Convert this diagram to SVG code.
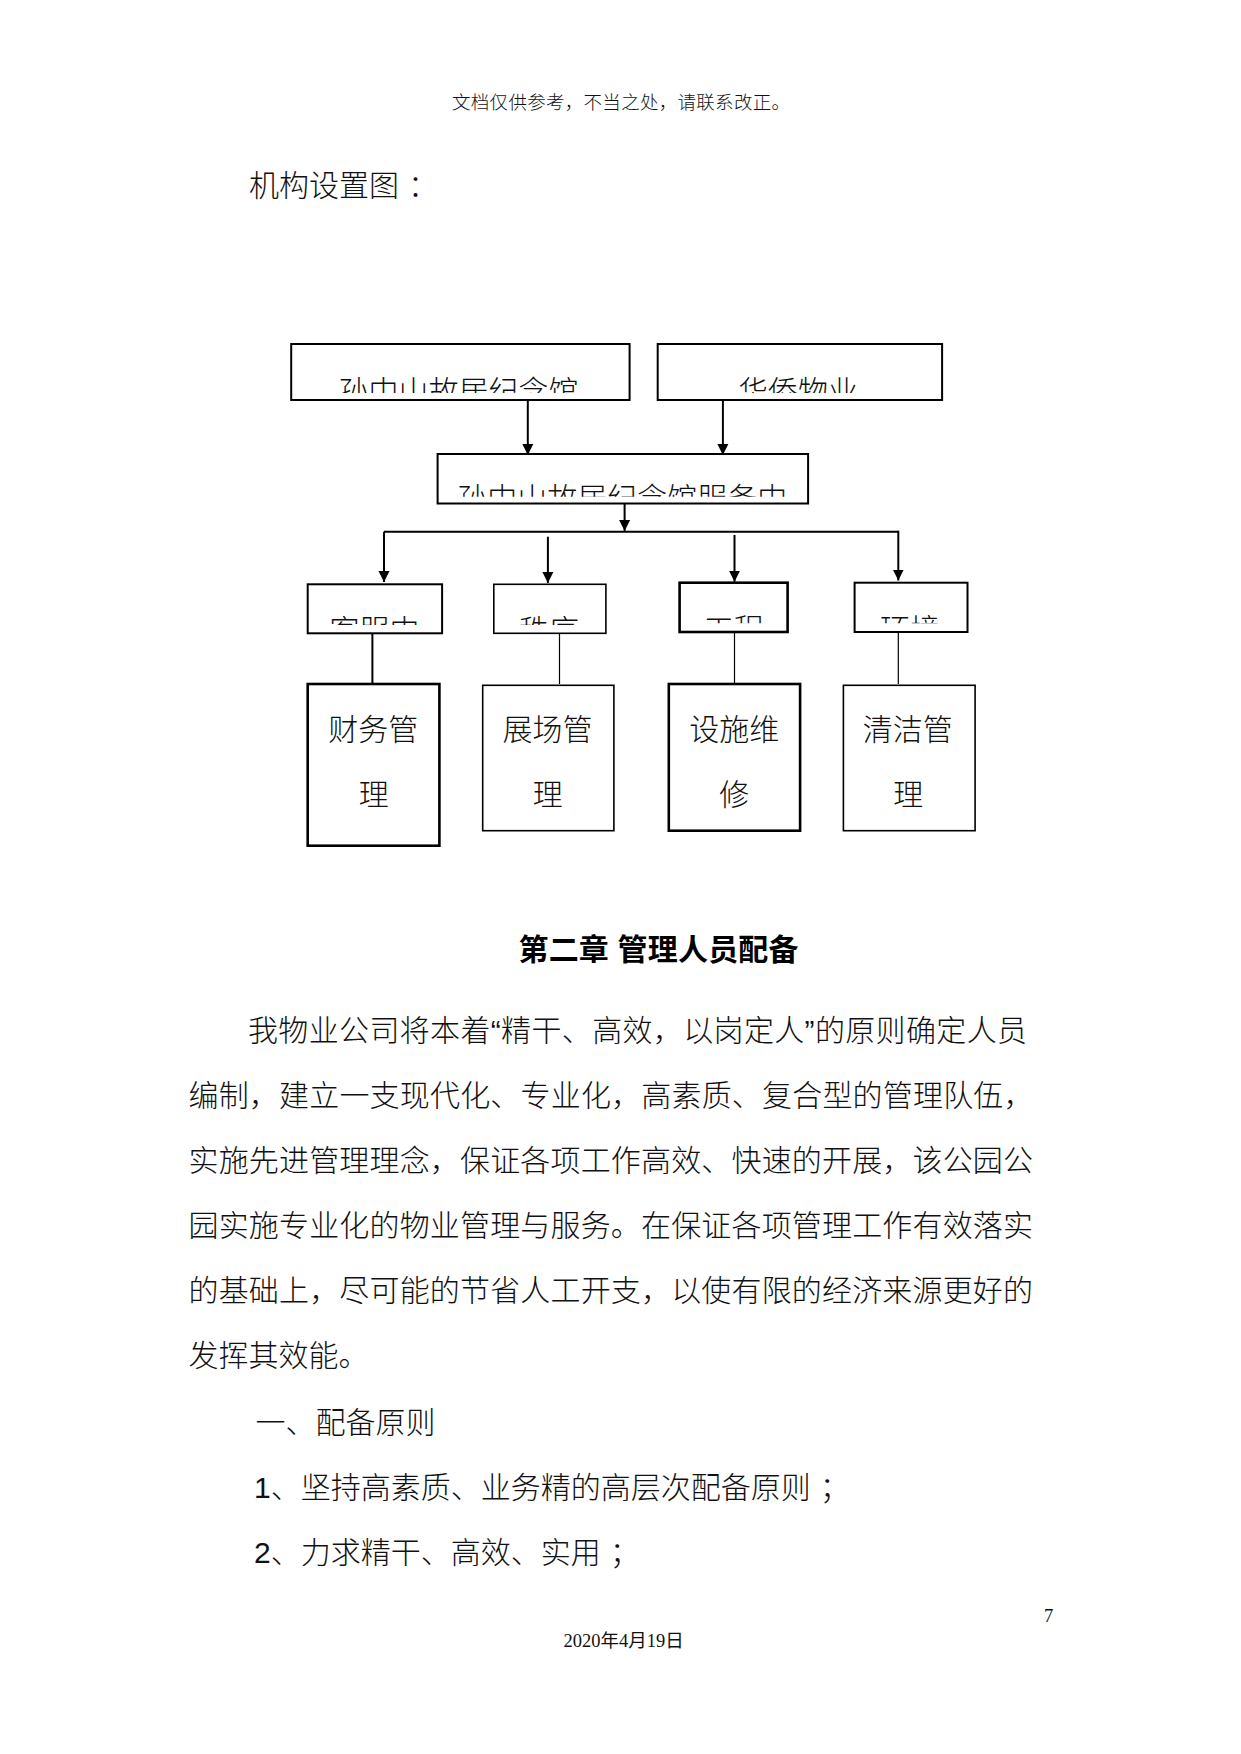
<svg xmlns="http://www.w3.org/2000/svg" width="1241" height="1754" viewBox="0 0 1241 1754">
<style>
.t{font-family:"Liberation Sans","Noto Sans CJK SC",sans-serif;font-size:30px;font-weight:300;fill:#111}
.c{text-anchor:middle}
.b{font-weight:700;fill:#000}
.s{font-family:"Liberation Serif","Noto Sans CJK SC",serif;font-size:18.5px;fill:#111}
.box{fill:#fff;stroke:#000;stroke-width:2}
.bk{stroke-width:2.6}
.bn{stroke-width:1.6}
.ln{stroke:#000;stroke-width:2;fill:none}
.lt{stroke-width:1.2}
</style>
<defs>
<marker id="ah" markerUnits="userSpaceOnUse" markerWidth="12" markerHeight="12" viewBox="0 0 12 12" refX="11" refY="6" orient="auto">
<path d="M0,0.5 L11,6 L0,11.5 z" fill="#000"/>
</marker>
<clipPath id="cp1" clipPathUnits="userSpaceOnUse"><rect x="292" y="345" width="337" height="48"/></clipPath>
<clipPath id="cp2" clipPathUnits="userSpaceOnUse"><rect x="658" y="345" width="283" height="48"/></clipPath>
<clipPath id="cp3" clipPathUnits="userSpaceOnUse"><rect x="438" y="455" width="369" height="41.7"/></clipPath>
<clipPath id="cpA" clipPathUnits="userSpaceOnUse"><rect x="308.7" y="585" width="132.4" height="40"/></clipPath>
<clipPath id="cpB" clipPathUnits="userSpaceOnUse"><rect x="494.8" y="585" width="110" height="40"/></clipPath>
<clipPath id="cpC" clipPathUnits="userSpaceOnUse"><rect x="680.6" y="584" width="106" height="39.3"/></clipPath>
<clipPath id="cpD" clipPathUnits="userSpaceOnUse"><rect x="855.6" y="584" width="111" height="39.3"/></clipPath>
</defs>

<g id="page-text">
<text class="s" x="452" y="109" style="font-family:'Noto Sans CJK SC',sans-serif;font-weight:300" textLength="338" lengthAdjust="spacing">文档仅供参考，不当之处，请联系改正。</text>
<text class="t" x="249" y="196">机构设置图<tspan dx="9">：</tspan></text>
</g>

<g id="connectors">
<line class="ln" x1="527.8" y1="401" x2="527.8" y2="455" marker-end="url(#ah)"/>
<line class="ln" x1="722.9" y1="401" x2="722.9" y2="455" marker-end="url(#ah)"/>
<line class="ln" x1="624.6" y1="504" x2="624.6" y2="531" marker-end="url(#ah)"/>
<line class="ln" x1="384" y1="531.7" x2="898.3" y2="531.7"/>
<line class="ln" x1="384" y1="531.7" x2="384" y2="582" marker-end="url(#ah)"/>
<line class="ln" x1="547.9" y1="536.7" x2="547.9" y2="583" marker-end="url(#ah)"/>
<line class="ln" x1="734.5" y1="535" x2="734.5" y2="581.7" marker-end="url(#ah)"/>
<line class="ln" x1="898.3" y1="530.7" x2="898.3" y2="580.5" marker-end="url(#ah)"/>
<line class="ln" x1="372.4" y1="634" x2="372.4" y2="683"/>
<line class="ln lt" x1="559.5" y1="634" x2="559.5" y2="684"/>
<line class="ln lt" x1="734.5" y1="633" x2="734.5" y2="683"/>
<line class="ln lt" x1="898.3" y1="633" x2="898.3" y2="684"/>
</g>

<g id="n-sun">
<rect class="box" x="291.2" y="344" width="338.4" height="56"/>
<text class="t c" x="458.6" y="402" clip-path="url(#cp1)">孙中山故居纪念馆</text>
</g>
<g id="n-huaqiao">
<rect class="box" x="657.7" y="344" width="284.4" height="56"/>
<text class="t c" x="798" y="402" clip-path="url(#cp2)">华侨物业</text>
</g>
<g id="n-service">
<rect class="box" x="437.6" y="454" width="370.5" height="49.5"/>
<text class="t c" x="622.2" y="509" clip-path="url(#cp3)">孙中山故居纪念馆服务中</text>
</g>
<g id="n-kefu">
<rect class="box" x="307.7" y="584.3" width="134.4" height="49"/>
<text class="t c" x="374.4" y="641" clip-path="url(#cpA)">客服中</text>
</g>
<g id="n-zhixu">
<rect class="box bn" x="493.8" y="584.3" width="112.1" height="49"/>
<text class="t c" x="549" y="641" clip-path="url(#cpB)">秩序</text>
</g>
<g id="n-gongcheng">
<rect class="box bk" x="679.6" y="582.7" width="108" height="49.3"/>
<text class="t c" x="733.8" y="640" clip-path="url(#cpC)">工程</text>
</g>
<g id="n-huanjing">
<rect class="box" x="854.6" y="582.7" width="112.9" height="49.3"/>
<text class="t c" x="910.1" y="640" clip-path="url(#cpD)">环境</text>
</g>

<g id="n-caiwu">
<rect class="box bk" x="307.7" y="684" width="131.7" height="161.7"/>
<text class="t c" x="373.3" y="739.7">财务管</text>
<text class="t c" x="373.8" y="804.7">理</text>
</g>
<g id="n-zhanchang">
<rect class="box bn" x="482.7" y="685.3" width="131.2" height="145.4"/>
<text class="t c" x="547.4" y="739.7">展场管</text>
<text class="t c" x="547.8" y="804.7">理</text>
</g>
<g id="n-sheshi">
<rect class="box bk" x="668.8" y="684" width="131.3" height="146.7"/>
<text class="t c" x="734.2" y="739.7">设施维</text>
<text class="t c" x="734.2" y="804.7">修</text>
</g>
<g id="n-qingjie">
<rect class="box bn" x="843.4" y="685.3" width="131.7" height="145.4"/>
<text class="t c" x="907.8" y="739.7">清洁管</text>
<text class="t c" x="908.2" y="804.7">理</text>
</g>

<g id="body-text">
<text class="t b" x="518.5" y="960" textLength="280" lengthAdjust="spacing">第二章 管理人员配备</text>
<text class="t" x="248" y="1041" textLength="779" lengthAdjust="spacing">我物业公司将本着“精干、高效，以岗定人”的原则确定人员</text>
<text class="t" x="188.5" y="1106" textLength="845" lengthAdjust="spacing">编制，建立一支现代化、专业化，高素质、复合型的管理队伍，</text>
<text class="t" x="188.5" y="1171" textLength="844.5" lengthAdjust="spacing">实施先进管理理念，保证各项工作高效、快速的开展，该公园公</text>
<text class="t" x="188.5" y="1236" textLength="844.5" lengthAdjust="spacing">园实施专业化的物业管理与服务。在保证各项管理工作有效落实</text>
<text class="t" x="188.5" y="1301" textLength="844.5" lengthAdjust="spacing">的基础上，尽可能的节省人工开支，以使有限的经济来源更好的</text>
<text class="t" x="188.5" y="1366">发挥其效能。</text>
<text class="t" x="255.5" y="1433">一、配备原则</text>
<text class="t" x="254" y="1498">1、坚持高素质、业务精的高层次配备原则<tspan dx="9">；</tspan></text>
<text class="t" x="254" y="1563">2、力求精干、高效、实用<tspan dx="9">；</tspan></text>
<text class="s" x="1044" y="1622">7</text>
<text class="s" x="563.5" y="1647">2020年4月19日</text>
</g>
</svg>
